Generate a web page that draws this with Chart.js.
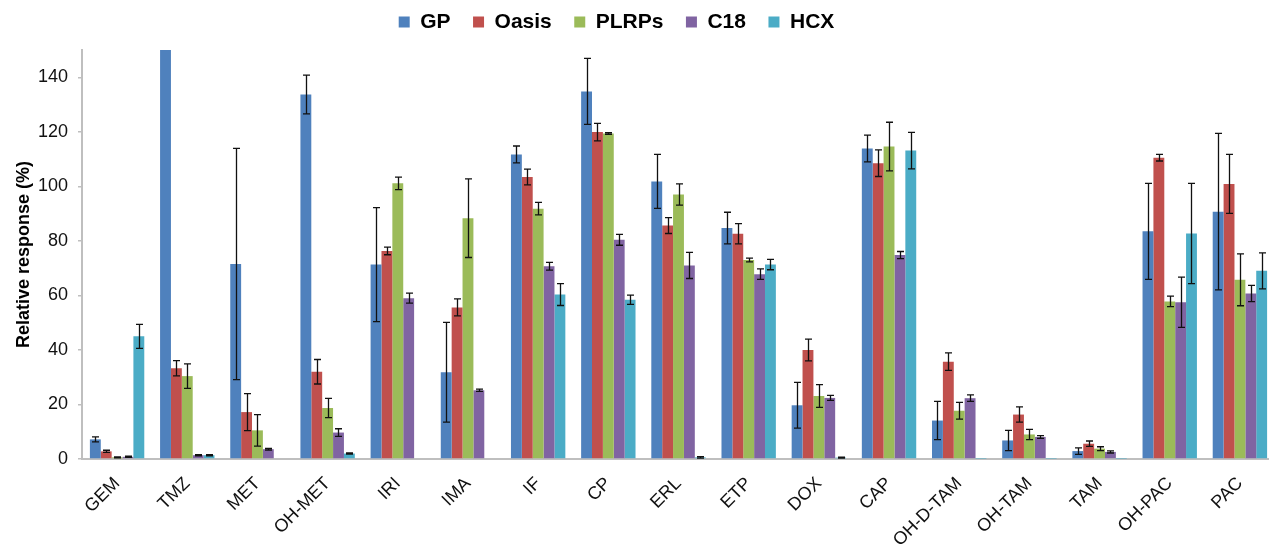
<!DOCTYPE html>
<html>
<head>
<meta charset="utf-8">
<script src="https://cdn.jsdelivr.net/npm/chart.js@4/dist/chart.umd.min.js"></script>
<style>
  html, body { margin: 0; padding: 0; background: #fff; overflow: hidden; }
  #wrap { width: 1275px; height: 548px; }
</style>
</head>
<body>
<div id="wrap"><canvas id="respChart" width="1275" height="548"></canvas></div>
<script>
// categories (compounds)
const compounds = ['GEM', 'TMZ', 'MET', 'OH-MET', 'IRI', 'IMA', 'IF', 'CP', 'ERL', 'ETP', 'DOX', 'CAP', 'OH-D-TAM', 'OH-TAM', 'TAM', 'OH-PAC', 'PAC'];

// relative response (%) per sorbent, with the error (+/-)
const gp       = [7.2, 160, 71.5, 133.7, 71.3, 31.8, 111.7, 134.8, 101.8, 84.7, 19.7, 113.9, 14.1, 6.8, 2.9, 83.5, 90.7];
const gpErr    = [0.9, 0, 42.4, 7.1, 20.9, 18.3, 3.1, 12.1, 9.9, 5.8, 8.4, 4.9, 7.0, 3.7, 1.2, 17.6, 28.7];
const oasis    = [2.8, 33.3, 17.2, 32.0, 76.3, 55.6, 103.4, 119.9, 85.6, 82.6, 40.0, 108.5, 35.7, 16.3, 5.6, 110.5, 100.9];
const oasisErr = [0.4, 2.8, 6.8, 4.5, 1.4, 3.1, 2.9, 3.2, 2.9, 3.7, 4.0, 4.9, 3.2, 2.8, 1.0, 1.2, 10.8];
const plrps    = [0.6, 30.4, 10.5, 18.7, 101.1, 88.3, 91.8, 119.4, 97.0, 73.0, 23.1, 114.6, 17.7, 9.0, 3.8, 57.8, 65.7];
const plrpsErr = [0.2, 4.5, 5.8, 3.5, 2.3, 14.4, 2.3, 0.3, 3.9, 0.7, 4.2, 8.9, 3.1, 1.9, 0.7, 1.9, 9.5];
const c18      = [0.8, 1.4, 3.6, 9.7, 59.0, 25.2, 70.7, 80.4, 71.0, 67.8, 22.4, 74.8, 22.3, 8.1, 2.6, 57.5, 60.7];
const c18Err   = [0.2, 0.2, 0.3, 1.4, 1.8, 0.4, 1.4, 2.0, 4.8, 1.9, 0.9, 1.3, 1.2, 0.5, 0.4, 9.2, 3.0];
const hcx      = [45.0, 1.4, 0, 2.0, 0, 0, 60.3, 58.4, 0.6, 71.3, 0.5, 113.1, 0.1, 0.1, 0.1, 82.7, 69.0];
const hcxErr   = [4.4, 0.2, 0, 0.2, 0, 0, 4.0, 1.7, 0.3, 1.9, 0.2, 6.7, 0, 0, 0, 18.4, 6.6];

const yMax = 150;
const yTickMax = 140;

const FONT = '"Liberation Sans", Arial, sans-serif';

// draws the +/- error whiskers on top of each bar
const errorBars = {
  id: 'errorBars',
  afterDatasetsDraw(chart) {
    const { ctx, chartArea, scales: { y } } = chart;
    ctx.save();
    ctx.beginPath();
    ctx.rect(chartArea.left, chartArea.top, chartArea.right - chartArea.left, chartArea.bottom - chartArea.top);
    ctx.clip();
    ctx.strokeStyle = '#111';
    ctx.lineWidth = 1.3;
    chart.data.datasets.forEach((ds, i) => {
      const meta = chart.getDatasetMeta(i);
      meta.data.forEach((bar, j) => {
        const e = ds.errors[j];
        if (!e) return;
        const v = ds.data[j];
        const top = y.getPixelForValue(v + e);
        const bot = y.getPixelForValue(Math.max(v - e, 0));
        const x = Math.round(bar.x) + 0.5;
        const cap = 3.5;
        ctx.beginPath();
        ctx.moveTo(x, top); ctx.lineTo(x, bot);
        ctx.moveTo(x - cap, top); ctx.lineTo(x + cap, top);
        ctx.moveTo(x - cap, bot); ctx.lineTo(x + cap, bot);
        ctx.stroke();
      });
    });
    ctx.restore();
  }
};

// move the legend a bit up and to the left, like in the original figure
const legendNudge = {
  id: 'legendNudge',
  afterLayout(chart) {
    chart.legend.top -= 11;
    chart.legend.left -= 42;
  }
};

const ctx = document.getElementById('respChart').getContext('2d');
new Chart(ctx, {
  type: 'bar',
  data: {
    labels: compounds,
    datasets: [
      { label: 'GP', data: gp, errors: gpErr, backgroundColor: '#4F81BD' },
      { label: 'Oasis', data: oasis, errors: oasisErr, backgroundColor: '#C0504D' },
      { label: 'PLRPs', data: plrps, errors: plrpsErr, backgroundColor: '#9BBB59' },
      { label: 'C18', data: c18, errors: c18Err, backgroundColor: '#8064A2' },
      { label: 'HCX', data: hcx, errors: hcxErr, backgroundColor: '#4BACC6' }
    ]
  },
  options: {
    responsive: false,
    animation: false,
    layout: { padding: 0 },
    datasets: {
      bar: { categoryPercentage: 0.775, barPercentage: 1.0, borderWidth: 0 }
    },
    plugins: {
      legend: {
        position: 'top',
        maxHeight: 50,
        labels: {
          boxWidth: 11,
          boxHeight: 11,
          padding: 22.5,
          color: '#000',
          font: { family: FONT, size: 21, weight: 'bold' }
        }
      },
      tooltip: { enabled: false }
    },
    scales: {
      x: {
        grid: { display: false },
        border: { display: true, color: '#bfbfbf', width: 2 },
        ticks: {
          color: '#111',
          minRotation: 45,
          maxRotation: 45,
          autoSkip: false,
          padding: 6,
          font: { family: FONT, size: 18 }
        },
        afterFit(scale) { scale.height = 89; }
      },
      y: {
        min: 0,
        max: yMax,
        grid: { drawOnChartArea: false, drawTicks: true, tickLength: 4, color: '#bfbfbf', lineWidth: 1.5 },
        border: { display: true, color: '#bfbfbf', width: 2 },
        ticks: {
          stepSize: 20,
          color: '#111',
          padding: 10,
          font: { family: FONT, size: 18 }
        },
        afterBuildTicks(scale) {
          scale.ticks = scale.ticks.filter(t => t.value <= yTickMax);
        },
        title: {
          display: true,
          text: 'Relative response (%)',
          color: '#000',
          padding: { top: 13, bottom: 0 },
          font: { family: FONT, size: 18, weight: 'bold' }
        },
        afterFit(scale) { scale.width = 82; }
      }
    }
  },
  plugins: [errorBars, legendNudge]
});
</script>
</body>
</html>
